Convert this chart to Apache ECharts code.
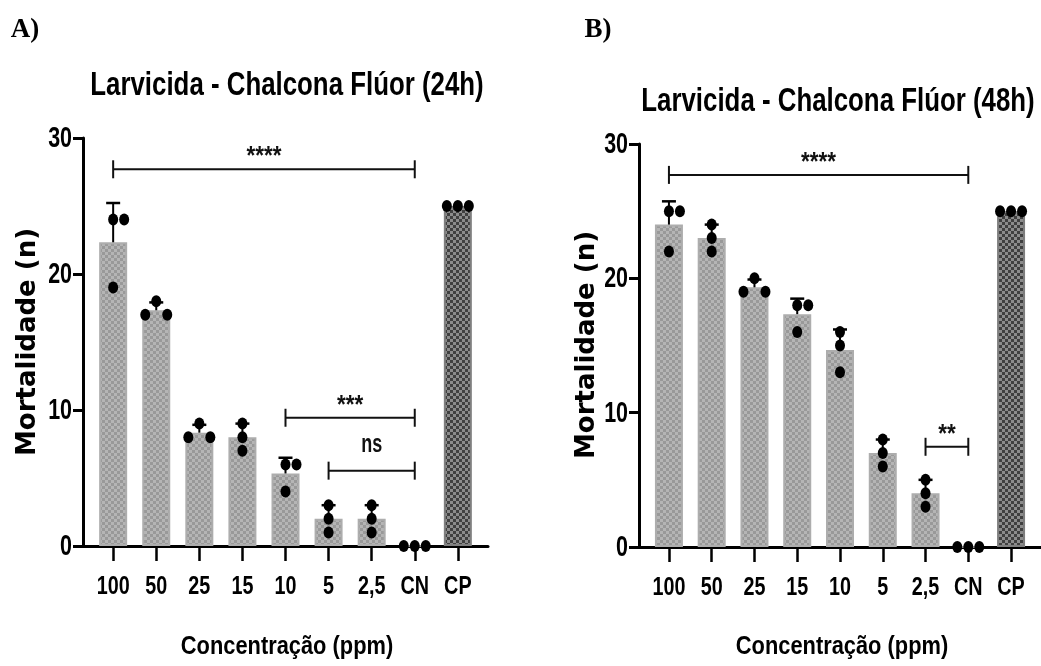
<!DOCTYPE html>
<html>
<head>
<meta charset="utf-8">
<script src="https://cdn.jsdelivr.net/npm/echarts@6/dist/echarts.min.js"></script>
<style>
html,body{margin:0;padding:0;background:#fff;}
#chart{width:1041px;height:666px;}
</style>
</head>
<body>
<div id="chart"></div>
<script>
// ---------------- DATA ----------------
const categories = ['100', '50', '25', '15', '10', '5', '2,5', 'CN', 'CP'];
// replicate mortality counts (n) per concentration
const replicatesA = [[24, 24, 19], [18, 17, 17], [9, 8, 8], [9, 8, 7], [6, 6, 4], [3, 2, 1], [3, 2, 1], [0, 0, 0], [25, 25, 25]];
const replicatesB = [[25, 25, 22], [24, 23, 22], [20, 19, 19], [18, 18, 16], [16, 15, 13], [8, 7, 6], [5, 4, 3], [0, 0, 0], [25, 25, 25]];
const yTicks = [0, 10, 20, 30];
// significance brackets: [from category, to category, height (n), label]
const bracketsA = [[0, 7, 27.7, '****'], [4, 7, 9.43, '***'], [5, 7, 5.54, 'ns']];
const bracketsB = [[0, 7, 27.7, '****'], [6, 7, 7.46, '**']];
const titleA = 'Larvicida - Chalcona Flúor (24h)';
const titleB = 'Larvicida - Chalcona Flúor (48h)';
const panelA = 'A)';
const panelB = 'B)';
const yName = 'Mortalidade (n)';
const xName = 'Concentração (ppm)';

// ---------------- HELPERS ----------------
const SANS = '"Liberation Sans", Arial, sans-serif';
const COND = 0.76; // horizontal condensation of the narrow bold face
function makePattern(c1, c2) {
  const cv = document.createElement('canvas');
  cv.width = 6; cv.height = 6;
  const ctx = cv.getContext('2d');
  ctx.fillStyle = c1; ctx.fillRect(0, 0, 6, 6);
  ctx.fillStyle = c2; ctx.fillRect(0, 0, 3, 3); ctx.fillRect(3, 3, 3, 3);
  return { image: cv, repeat: 'repeat' };
}
const patLight = makePattern('#b5b5b5', '#999999');
const patDark = makePattern('#8c8c8c', '#404040');

function mean(a) { return a.reduce((s, v) => s + v, 0) / a.length; }
function sd(a) { const m = mean(a); return Math.sqrt(a.reduce((s, v) => s + (v - m) * (v - m), 0) / (a.length - 1)); }
function offsets(vals) {
  return vals.map((v, i) => {
    const same = vals.map((w, j) => w === v ? j : -1).filter(j => j >= 0);
    const k = same.indexOf(i);
    if (same.length === 3) return [-11, 0, 11][k];
    if (same.length === 2) {
      const other = vals.find(w => w !== v);
      return Math.abs(other - v) <= 1.5 ? [-11, 11][k] : [0, 11][k];
    }
    return 0;
  });
}

function buildSeries(reps, brackets, gi) {
  const barData = reps.map((r, i) => ({
    value: [i, mean(r)],
    itemStyle: i === categories.length - 1
      ? { color: patDark, borderColor: '#7f7f7f', borderWidth: 2 }
      : { color: patLight, borderColor: '#adadad', borderWidth: 2 }
  }));
  const errData = reps.map((r, i) => [i, mean(r), mean(r) + sd(r)]).filter(d => d[2] > d[1] + 1e-9);
  const dotData = [];
  reps.forEach((r, i) => {
    const off = offsets(r);
    r.forEach((v, k) => dotData.push({ value: [i, v], symbolOffset: [off[k], 0] }));
  });
  return [
    { type: 'bar', xAxisIndex: gi, yAxisIndex: gi, barWidth: 28, data: barData, silent: true, z: 2 },
    {
      type: 'custom', xAxisIndex: gi, yAxisIndex: gi, data: errData, z: 3, silent: true,
      renderItem(params, api) {
        const p0 = api.coord([api.value(0), api.value(1)]);
        const p1 = api.coord([api.value(0), api.value(2)]);
        return { type: 'group', children: [
          { type: 'line', shape: { x1: p0[0], y1: p0[1], x2: p1[0], y2: p1[1] }, style: { stroke: '#000', lineWidth: 2 } },
          { type: 'line', shape: { x1: p1[0] - 7, y1: p1[1], x2: p1[0] + 7, y2: p1[1] }, style: { stroke: '#000', lineWidth: 2.5 } }
        ] };
      }
    },
    { type: 'scatter', xAxisIndex: gi, yAxisIndex: gi, data: dotData, symbol: 'circle', symbolSize: [10, 12],
      itemStyle: { color: '#000', opacity: 1 }, z: 4, silent: true, clip: false },
    {
      type: 'custom', xAxisIndex: gi, yAxisIndex: gi, data: brackets.map(b => [b[0], b[1], b[2]]), z: 5, silent: true, clip: false,
      renderItem(params, api) {
        const a = api.coord([api.value(0), api.value(2)]);
        const b = api.coord([api.value(1), api.value(2)]);
        const label = brackets[params.dataIndex][3];
        const isNs = label === 'ns';
        return { type: 'group', children: [
          { type: 'line', shape: { x1: a[0], y1: a[1], x2: b[0], y2: b[1] }, style: { stroke: '#111', lineWidth: 2 } },
          { type: 'line', shape: { x1: a[0], y1: a[1] - 9, x2: a[0], y2: a[1] + 9 }, style: { stroke: '#111', lineWidth: 2 } },
          { type: 'line', shape: { x1: b[0], y1: b[1] - 9, x2: b[0], y2: b[1] + 9 }, style: { stroke: '#111', lineWidth: 2 } },
          { type: 'text', x: (a[0] + b[0]) / 2, y: a[1] - (isNs ? 26 : 12), scaleX: isNs ? 0.72 : 0.9,
            style: { text: label, align: 'center', verticalAlign: 'middle',
              font: isNs ? 'bold 25px ' + SANS : 'bold 25px ' + SANS, fill: '#111' } }
        ] };
      }
    },
    // category tick labels (condensed bold)
    {
      type: 'custom', xAxisIndex: gi, yAxisIndex: gi, data: categories.map((c, i) => [i, 0]), z: 6, silent: true, clip: false,
      renderItem(params, api) {
        const p = api.coord([api.value(0), 0]);
        return { type: 'text', x: p[0], y: p[1] + 41, scaleX: COND,
          style: { text: categories[params.dataIndex], align: 'center', verticalAlign: 'middle', font: 'bold 26px ' + SANS, fill: '#000' } };
      }
    },
    // value tick labels (condensed bold)
    {
      type: 'custom', xAxisIndex: gi, yAxisIndex: gi, data: yTicks.map(v => [-0.7, v]), z: 6, silent: true, clip: false,
      renderItem(params, api) {
        const p = api.coord([api.value(0), api.value(1)]);
        return { type: 'text', x: p[0] - 11, y: p[1] + 1, scaleX: 0.74,
          style: { text: String(yTicks[params.dataIndex]), align: 'right', verticalAlign: 'middle', font: 'bold 29px ' + SANS, fill: '#000' } };
      }
    }
  ];
}

function xAxisFor(gi) {
  return {
    gridIndex: gi, type: 'value', min: -0.7, max: 8.7,
    splitLine: { show: false },
    axisLine: { show: true, onZero: false, lineStyle: { color: '#000', width: 3 } },
    axisTick: { show: true, customValues: categories.map((c, i) => i), length: 15, lineStyle: { color: '#000', width: 2.5 } },
    axisLabel: { show: false }
  };
}
function yAxisFor(gi) {
  return {
    gridIndex: gi, type: 'value', min: yTicks[0], max: yTicks[yTicks.length - 1], interval: 10,
    splitLine: { show: false },
    axisLine: { show: true, onZero: false, lineStyle: { color: '#000', width: 3 } },
    axisTick: { show: true, length: 10, lineStyle: { color: '#000', width: 3 } },
    axisLabel: { show: false }
  };
}

function txt(text, x, y, font, opts) {
  return Object.assign({ type: 'text', x: x, y: y, silent: true,
    style: { text: text, font: font, fill: '#000', align: 'center', verticalAlign: 'middle' } }, opts || {});
}

const chart = echarts.init(document.getElementById('chart'), null, { renderer: 'canvas' });
chart.setOption({
  backgroundColor: '#fff',
  animation: false,
  graphic: { elements: [
    txt(panelA, 25, 30, 'bold 27px "Liberation Serif", serif'),
    txt(panelB, 598, 30, 'bold 27px "Liberation Serif", serif'),
    txt(titleA, 287, 86, 'bold 34px ' + SANS, { scaleX: COND }),
    txt(titleB, 838, 102, 'bold 34px ' + SANS, { scaleX: COND }),
    txt(yName, 28, 342, 'bold 26px "DejaVu Sans", sans-serif', { rotation: Math.PI / 2 }),
    txt(yName, 587, 345, 'bold 26px "DejaVu Sans", sans-serif', { rotation: Math.PI / 2 }),
    txt(xName, 287, 647, 'bold 26px ' + SANS, { scaleX: 0.84 }),
    txt(xName, 842, 647, 'bold 26px ' + SANS, { scaleX: 0.84 })
  ] },
  grid: [
    { left: 83, top: 138, width: 405, height: 408 },
    { left: 639, top: 144, width: 404, height: 403 }
  ],
  xAxis: [xAxisFor(0), xAxisFor(1)],
  yAxis: [yAxisFor(0), yAxisFor(1)],
  series: [...buildSeries(replicatesA, bracketsA, 0), ...buildSeries(replicatesB, bracketsB, 1)]
});
</script>
</body>
</html>
